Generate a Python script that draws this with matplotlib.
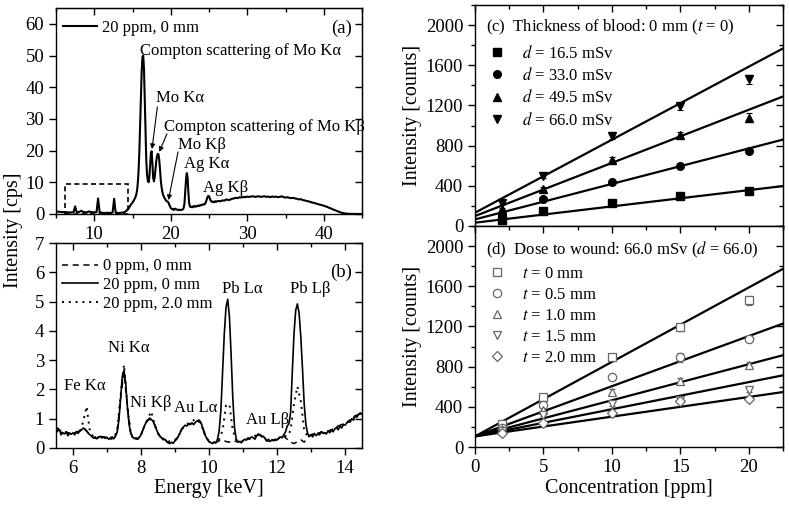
import numpy as np
import matplotlib
matplotlib.use("Agg")
import matplotlib.pyplot as plt
from matplotlib.patches import Rectangle
from matplotlib.ticker import MultipleLocator

plt.rcParams['font.family'] = ['Liberation Serif', 'DejaVu Serif']
plt.rcParams['mathtext.fontset'] = 'stix'

# ---------------- Panel (a): full spectrum, 20 ppm, 0 mm ----------------
energy_a1 = [5.0, 5.4, 5.8, 6.2, 6.6, 7.0, 7.3, 7.5, 7.7, 8.0, 8.3, 8.6, 9.0, 9.3, 9.6,
             10.0, 10.3, 10.5, 10.7, 11.0, 11.4, 11.8, 12.2, 12.4, 12.6, 12.8, 13.1, 13.5, 13.9, 14.2]
counts_a1 = [0.8, 0.7, 0.6, 0.6, 0.5, 0.5, 0.6, 2.4, 0.6, 0.6, 1.0, 0.6, 0.5, 0.8, 0.6,
             0.5, 0.6, 4.9, 0.6, 0.4, 0.3, 0.4, 0.3, 0.5, 4.8, 0.5, 0.3, 0.4, 0.5, 1.0]
energy_a2 = np.linspace(14.5, 26.0, 116)
counts_a2 = [1.8, 2.2, 2.6, 3.0, 3.3, 3.6, 4.0, 4.4, 4.9, 5.4,
             6.2, 7.5, 10.0, 14.0, 20.0, 28.0, 37.0, 45.0, 49.5, 50.0,
             46.0, 36.0, 25.0, 17.0, 12.5, 10.5, 10.0, 11.5, 15.5, 19.0,
             19.8, 16.0, 11.5, 10.3, 11.5, 14.0, 16.5, 18.2, 19.0, 18.8,
             17.0, 14.0, 10.5, 8.5, 7.0, 6.0, 5.5, 5.0, 4.6, 4.2,
             4.0, 3.9, 3.6, 3.0, 2.4, 1.9, 1.7, 1.5, 1.6, 1.3,
             1.4, 1.7, 1.5, 1.4, 1.3, 1.2, 1.4, 1.3, 1.2, 1.3,
             1.4, 1.5, 2.0, 3.5, 7.0, 11.0, 12.9, 11.5, 7.0, 3.5,
             2.4, 2.2, 2.3, 2.1, 2.4, 2.3, 2.5, 2.4, 2.3, 2.5,
             2.6, 2.5, 2.7, 2.6, 2.8, 2.9, 2.8, 3.0, 3.1, 3.0,
             3.3, 3.8, 4.6, 5.3, 5.7, 5.6, 5.0, 4.3, 4.0, 3.8,
             3.9, 3.7, 3.9, 4.0, 3.8, 4.0]
energy_a3 = np.linspace(26.25, 45.0, 76)
counts_a3 = [4.1, 4.0, 4.3, 4.2, 4.6, 4.4, 4.5, 4.8, 4.9, 5.1,
             5.0, 5.3, 5.2, 5.4, 5.3, 5.5, 5.4, 5.5, 5.6, 5.4,
             5.5, 5.6, 5.4, 5.5, 5.6, 5.4, 5.5, 5.3, 5.5, 5.4,
             5.5, 5.3, 5.4, 5.6, 5.3, 5.2, 5.3, 5.1, 5.0, 5.1,
             4.9, 4.8, 4.6, 4.7, 4.4, 4.3, 4.1, 4.0, 3.8, 3.6,
             3.5, 3.3, 3.1, 2.95, 2.8, 2.6, 2.4, 2.2, 1.9, 1.7,
             1.4, 1.2, 0.9, 0.7, 0.45, 0.3, 0.18, 0.1, 0.05, 0.03,
             0.02, 0.02, 0.01, 0.01, 0.0, 0.0]

# ---------------- Panel (b): zoomed spectra ----------------
energy_b_fine = np.linspace(5.5, 14.5, 181)
solid_20ppm_0mm = [
    0.55, 0.68, 0.62, 0.45, 0.52, 0.48, 0.55, 0.42, 0.50, 0.47,
    0.52, 0.45, 0.55, 0.50, 0.58, 0.62, 0.68, 0.65, 0.58, 0.50,
    0.45, 0.40, 0.35, 0.38, 0.32, 0.36, 0.40, 0.34, 0.38, 0.33,
    0.36, 0.30, 0.35, 0.38, 0.32, 0.40, 0.55, 0.95, 1.70, 2.45,
    2.65, 2.20, 1.40, 0.80, 0.50, 0.38, 0.32, 0.35, 0.30, 0.36,
    0.45, 0.60, 0.75, 0.88, 0.95, 1.02, 0.98, 0.92, 0.80, 0.65,
    0.50, 0.40, 0.35, 0.28, 0.30, 0.22, 0.18, 0.15, 0.20, 0.16,
    0.25, 0.30, 0.40, 0.52, 0.65, 0.72, 0.78, 0.75, 0.82, 0.80,
    0.85, 0.80, 0.88, 0.92, 0.95, 0.90, 0.75, 0.55, 0.40, 0.30,
    0.22, 0.18, 0.15, 0.20, 0.18, 0.30, 0.60, 1.30, 2.60, 3.90,
    4.80, 5.08, 4.50, 3.20, 1.70, 0.70, 0.30, 0.20, 0.22, 0.18,
    0.25, 0.30, 0.28, 0.35, 0.32, 0.38, 0.35, 0.30, 0.42, 0.48,
    0.45, 0.38, 0.40, 0.32, 0.25, 0.30, 0.22, 0.28, 0.25, 0.30,
    0.28, 0.32, 0.38, 0.35, 0.45, 0.55, 0.75, 0.82, 1.20, 2.60,
    3.90, 4.70, 4.92, 4.60, 3.80, 2.70, 1.50, 0.80, 0.50, 0.40,
    0.45, 0.38, 0.50, 0.42, 0.48, 0.45, 0.55, 0.50, 0.52, 0.48,
    0.58, 0.52, 0.62, 0.55, 0.65, 0.70, 0.62, 0.75, 0.68, 0.80,
    0.78, 0.85, 0.92, 0.88, 1.00, 0.95, 1.10, 1.05, 1.15, 1.20, 1.15]
energy_b_coarse = np.linspace(5.5, 14.5, 91)
dashed_0ppm_0mm = [
    0.55, 0.62, 0.52, 0.55, 0.50, 0.52, 0.55, 0.58, 0.68, 0.58,
    0.45, 0.35, 0.32, 0.40, 0.38, 0.36, 0.35, 0.32, 0.55, 1.70,
    2.60, 1.40, 0.50, 0.32, 0.30, 0.45, 0.75, 0.95, 0.98, 0.80,
    0.50, 0.35, 0.30, 0.18, 0.20, 0.25, 0.40, 0.65, 0.78, 0.82,
    0.85, 0.88, 0.95, 0.75, 0.40, 0.22, 0.15, 0.18, 0.25, 0.28,
    0.22, 0.20, 0.25, 0.22, 0.22, 0.25, 0.28, 0.32, 0.35, 0.42,
    0.45, 0.40, 0.25, 0.22, 0.25, 0.28, 0.38, 0.40, 0.30, 0.20,
    0.15, 0.22, 0.28, 0.20, 0.35, 0.45, 0.50, 0.48, 0.55, 0.52,
    0.58, 0.62, 0.70, 0.75, 0.80, 0.78, 0.92, 1.00, 1.10, 1.15, 1.15]
dotted_20ppm_2mm = [
    0.55, 0.62, 0.50, 0.52, 0.48, 0.50, 0.52, 0.55, 0.90, 1.42,
    0.55, 0.38, 0.35, 0.38, 0.35, 0.35, 0.30, 0.35, 0.60, 1.80,
    2.85, 1.40, 0.45, 0.30, 0.32, 0.45, 0.75, 1.00, 1.25, 0.80,
    0.50, 0.35, 0.30, 0.22, 0.25, 0.28, 0.40, 0.65, 0.75, 0.85,
    0.90, 1.00, 0.90, 0.70, 0.40, 0.22, 0.18, 0.20, 0.30, 0.60,
    1.45, 1.50, 0.60, 0.28, 0.22, 0.25, 0.30, 0.32, 0.38, 0.45,
    0.45, 0.38, 0.25, 0.25, 0.28, 0.30, 0.38, 0.42, 0.40, 0.60,
    1.50, 2.10, 1.60, 0.60, 0.40, 0.45, 0.45, 0.50, 0.52, 0.50,
    0.58, 0.60, 0.68, 0.72, 0.80, 0.80, 0.90, 1.00, 1.08, 1.15, 1.18]

# ---------------- Panel (c) ----------------
conc = [2, 5, 10, 15, 20]
c_labels = ['$d$ = 16.5 mSv', '$d$ = 33.0 mSv', '$d$ = 49.5 mSv', '$d$ = 66.0 mSv']
c_values = [[60, 145, 225, 298, 344],
            [110, 271, 440, 595, 744],
            [165, 370, 658, 909, 1078],
            [225, 496, 893, 1190, 1461]]
c_err = [[5, 8, 10, 12, 15],
         [8, 10, 15, 18, 20],
         [10, 15, 25, 30, 45],
         [12, 20, 30, 35, 45]]
c_fit_intercept = [33, 66, 99, 132]
c_fit_slope = [16.2, 35.3, 52.9, 72.7]
c_markers = ['s', 'o', '^', 'v']

# ---------------- Panel (d) ----------------
d_labels = ['$t$ = 0 mm', '$t$ = 0.5 mm', '$t$ = 1.0 mm', '$t$ = 1.5 mm', '$t$ = 2.0 mm']
d_values = [[225, 496, 893, 1190, 1461],
            [190, 415, 698, 894, 1076],
            [175, 372, 548, 661, 817],
            [160, 322, 432, 472, 571],
            [140, 239, 339, 455, 482]]
d_err = [[12, 20, 30, 35, 45],
         [10, 15, 30, 45, 30],
         [10, 12, 25, 25, 30],
         [8, 12, 20, 20, 25],
         [8, 10, 15, 20, 20]]
d_fit_intercept = [106, 106, 106, 106, 106]
d_fit_slope = [74.1, 49.9, 35.9, 27.0, 19.6]
d_markers = ['s', 'o', '^', 'v', 'D']

TICK = 13.5
TXT = 12
LAB = 14.5

fig = plt.figure(figsize=(7.89, 5.12), dpi=100)
ax_a = fig.add_axes([56/789, 1-214/512, 306/789, 206/512])
ax_b = fig.add_axes([56/789, 1-448/512, 306/789, 205/512])
ax_c = fig.add_axes([475/789, 1-226/512, 308/789, 221/512])
ax_d = fig.add_axes([475/789, 1-447/512, 308/789, 221/512])


def style(ax):
    ax.tick_params(which='both', direction='out', top=False, right=False, labelsize=TICK, width=1)
    ax.tick_params(which='major', length=5)
    ax.tick_params(which='minor', length=3)
    for sp in ax.spines.values():
        sp.set_linewidth(1.0)
    sec_x = ax.secondary_xaxis('top')
    sec_x.tick_params(which='both', direction='in', labeltop=False, width=1)
    sec_x.tick_params(which='major', length=5)
    sec_x.tick_params(which='minor', length=3)
    sec_y = ax.secondary_yaxis('right')
    sec_y.tick_params(which='both', direction='in', labelright=False, width=1)
    sec_y.tick_params(which='major', length=5)
    sec_y.tick_params(which='minor', length=3)
    return sec_x, sec_y


# ---- (a)
energy_a = np.concatenate([energy_a1, energy_a2, energy_a3])
counts_a = np.concatenate([counts_a1, counts_a2, counts_a3])
ax_a.plot(energy_a, counts_a, color='black', lw=1.5, label='20 ppm, 0 mm')
ax_a.set_xlim(5, 45)
ax_a.set_ylim(0, 65)
ax_a.xaxis.set_major_locator(MultipleLocator(10))
ax_a.xaxis.set_minor_locator(MultipleLocator(5))
ax_a.yaxis.set_major_locator(MultipleLocator(10))
sx, sy = style(ax_a)
sx.xaxis.set_major_locator(MultipleLocator(10)); sx.xaxis.set_minor_locator(MultipleLocator(5))
sy.yaxis.set_major_locator(MultipleLocator(10))
ax_a.add_patch(Rectangle((6.2, 0), 8.2, 9.5, fill=False, ls=(0, (3, 2)), lw=1.2, color='black'))
ax_a.legend(loc='center left', bbox_to_anchor=(0.023, 0.903), frameon=False, fontsize=TXT,
            handlelength=2.05, handletextpad=0.3, borderpad=0, borderaxespad=0)
ax_a.text(0.967, 0.903, '(a)', transform=ax_a.transAxes, ha='right', va='center', fontsize=TICK)
ax_a.text(16.0, 51.4, 'Compton scattering of Mo K\u03b1', fontsize=TXT, va='center')
ax_a.text(18.1, 36.5, 'Mo K\u03b1', fontsize=TXT, va='center')
ax_a.text(19.1, 27.6, 'Compton scattering of Mo K\u03b2', fontsize=TXT, va='center')
ax_a.text(20.95, 21.9, 'Mo K\u03b2', fontsize=TXT, va='center')
ax_a.text(21.7, 15.9, 'Ag K\u03b1', fontsize=TXT, va='center')
ax_a.text(24.2, 8.2, 'Ag K\u03b2', fontsize=TXT, va='center')
arr = dict(arrowstyle='-|>', lw=0.8, color='black', mutation_scale=7, shrinkA=0, shrinkB=0)
ax_a.annotate('', xy=(17.55, 20.5), xytext=(18.25, 33.8), arrowprops=arr)
ax_a.annotate('', xy=(18.5, 19.6), xytext=(19.5, 25.3), arrowprops=arr)
ax_a.annotate('', xy=(19.7, 4.4), xytext=(20.95, 19.6), arrowprops=arr)

# ---- (b)
ax_b.plot(energy_b_coarse, dashed_0ppm_0mm, color='black', lw=1.1, ls=(0, (4, 3)), label='0 ppm, 0 mm')
ax_b.plot(energy_b_fine, solid_20ppm_0mm, color='black', lw=1.2, label='20 ppm, 0 mm')
ax_b.plot(energy_b_coarse, dotted_20ppm_2mm, color='black', lw=1.4, ls=(0, (1, 2.5)), label='20 ppm, 2.0 mm')
ax_b.set_xlim(5.5, 14.5)
ax_b.set_ylim(0, 7)
ax_b.xaxis.set_major_locator(MultipleLocator(2))
ax_b.xaxis.set_minor_locator(MultipleLocator(1))
ax_b.yaxis.set_major_locator(MultipleLocator(1))
sx, sy = style(ax_b)
sx.xaxis.set_major_locator(MultipleLocator(2)); sx.xaxis.set_minor_locator(MultipleLocator(1))
sy.yaxis.set_major_locator(MultipleLocator(1))
ax_b.legend(loc='upper left', bbox_to_anchor=(0.02, 0.925), frameon=False, fontsize=TXT,
            handlelength=2.15, handletextpad=0.3, borderpad=0, borderaxespad=0, labelspacing=0.17)
ax_b.text(0.967, 0.858, '(b)', transform=ax_b.transAxes, ha='right', va='center', fontsize=TICK)
for lbl, xx, yy in [('Fe K\u03b1', 5.74, 2.1), ('Ni K\u03b1', 7.03, 3.42), ('Ni K\u03b2', 7.68, 1.55),
                    ('Au L\u03b1', 8.97, 1.38), ('Pb L\u03b1', 10.38, 5.42), ('Au L\u03b2', 11.09, 0.97),
                    ('Pb L\u03b2', 12.38, 5.42)]:
    ax_b.text(xx, yy, lbl, fontsize=TXT, va='center')

fig.text(14/789, 1-230/512, 'Intensity [cps]', rotation=90, ha='center', va='center', fontsize=LAB)
fig.text(209/789, 1-488/512, 'Energy [keV]', ha='center', va='center', fontsize=LAB)


# ---- (c) and (d)
def conc_panel(ax, labels, values, errs, intercepts, slopes, markers, filled, title, tag):
    ax.set_xlim(0, 22.5)
    ax.set_ylim(0, 2200)
    xf = np.array(ax.get_xlim())
    for b, m in zip(intercepts, slopes):
        ax.plot(xf, b + m * xf, color='black', lw=1.6, zorder=2)
    handles = []
    for lbl, v, e, mk in zip(labels, values, errs, markers):
        if filled:
            h = ax.errorbar(conc, v, yerr=e, fmt=mk, color='black', ms=5.5,
                            capsize=2.5, elinewidth=0.8, capthick=0.8, zorder=3, label=lbl)
        else:
            h = ax.errorbar(conc, v, yerr=e, fmt=mk, color='#666666', mfc='white', mec='#666666',
                            ms=6 if mk != 'D' else 5, mew=0.9, capsize=2.5, elinewidth=0.8,
                            capthick=0.8, zorder=3, label=lbl)
        handles.append(h[0])
    ax.xaxis.set_major_locator(MultipleLocator(5))
    ax.xaxis.set_minor_locator(MultipleLocator(2.5))
    ax.yaxis.set_major_locator(MultipleLocator(400))
    ax.yaxis.set_minor_locator(MultipleLocator(200))
    sx, sy = style(ax)
    sx.xaxis.set_major_locator(MultipleLocator(5)); sx.xaxis.set_minor_locator(MultipleLocator(2.5))
    sy.yaxis.set_major_locator(MultipleLocator(400)); sy.yaxis.set_minor_locator(MultipleLocator(200))
    ax.set_ylabel('Intensity [counts]', fontsize=LAB)
    ax.yaxis.set_label_coords(-0.172, 0.5)
    ax.text(0.035, tag, title, transform=ax.transAxes, fontsize=TXT, va='center')
    return handles


hc = conc_panel(ax_c, c_labels, c_values, c_err, c_fit_intercept, c_fit_slope, c_markers, True,
                '(c)  Thickness of blood: 0 mm ($t$ = 0)', 0.90)
ax_c.legend(handles=hc, labels=c_labels, loc='upper left', bbox_to_anchor=(0.045, 0.82), frameon=False,
            fontsize=TXT, handlelength=1.0, handletextpad=1.0, borderpad=0, borderaxespad=0,
            labelspacing=0.32)
ax_c.tick_params(axis='x', labelbottom=False)

hd = conc_panel(ax_d, d_labels, d_values, d_err, d_fit_intercept, d_fit_slope, d_markers, False,
                '(d)  Dose to wound: 66.0 mSv ($d$ = 66.0)', 0.89)
ax_d.legend(handles=hd, labels=d_labels, loc='upper left', bbox_to_anchor=(0.045, 0.82), frameon=False,
            fontsize=TXT, handlelength=1.0, handletextpad=1.0, borderpad=0, borderaxespad=0,
            labelspacing=0.3)
fig.text(629/789, 1-488/512, 'Concentration [ppm]', ha='center', va='center', fontsize=LAB)

fig.savefig('out.png', dpi=100)
